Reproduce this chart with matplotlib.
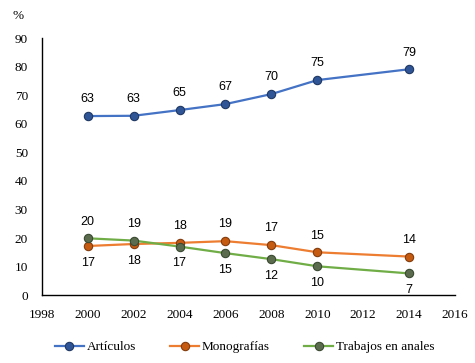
import matplotlib.pyplot as plt

# ------------------ DATA ------------------
years = [2000, 2002, 2004, 2006, 2008, 2010, 2014]
articulos = [62.7, 62.8, 64.8, 66.9, 70.4, 75.3, 79.1]
monografias = [17.2, 17.9, 18.3, 18.9, 17.5, 15.0, 13.5]
trabajos = [19.9, 19.1, 17.0, 14.7, 12.6, 10.1, 7.6]
lab_art = [63, 63, 65, 67, 70, 75, 79]
lab_mon = [17, 18, 18, 19, 17, 15, 14]
lab_tra = [20, 19, 17, 15, 12, 10, 7]
# label position: +1 above the point, -1 below
pos_mon = [-1, -1, 1, 1, 1, 1, 1]
pos_tra = [1, 1, -1, -1, -1, -1, -1]
pos_art = [1] * 7

series = [
    ("Artículos", articulos, lab_art, pos_art, "#4472C4", "#2F5597", "#1F3864"),
    ("Monografías", monografias, lab_mon, pos_mon, "#ED7D31", "#C55A11", "#843C0C"),
    ("Trabajos en anales", trabajos, lab_tra, pos_tra, "#70AD47", "#5B6B4E", "#3A4A30"),
]

serif = "Liberation Serif"
sans = "Liberation Sans"

fig = plt.figure(figsize=(4.75, 3.63), dpi=100)
ax = fig.add_axes([0.088, 0.187, 0.87, 0.708])

for name, vals, labs, pos, col, face, edge in series:
    ax.plot(years, vals, color=col, lw=1.6, marker="o", ms=6,
            markerfacecolor=face, markeredgecolor=edge, markeredgewidth=0.8,
            label=name)
    for x, v, t, p in zip(years, vals, labs, pos):
        ax.annotate(str(t), (x, v), xytext=(0, 12 * p), textcoords="offset points",
                    ha="center", va="center", fontsize=9, family=sans)

ax.set_xlim(1998, 2016)
ax.set_ylim(0, 90)
ax.set_xticks(range(1998, 2017, 2))
ax.set_yticks(range(0, 91, 10))
ax.tick_params(length=0, labelsize=9.5, pad=10)
for lbl in ax.get_xticklabels() + ax.get_yticklabels():
    lbl.set_family(serif)
for s in ["top", "right"]:
    ax.spines[s].set_visible(False)
ax.spines["left"].set_linewidth(1.0)
ax.spines["bottom"].set_linewidth(1.0)

fig.text(0.038, 0.955, "%", fontsize=9.5, family=serif, ha="center", va="center")

leg = fig.legend(loc="center", bbox_to_anchor=(0.515, 0.044), ncol=3, frameon=False,
                 prop={"family": serif, "size": 9.5}, handlelength=2.2,
                 handletextpad=0.2, columnspacing=2.6)

fig.savefig("out.png", dpi=100)
